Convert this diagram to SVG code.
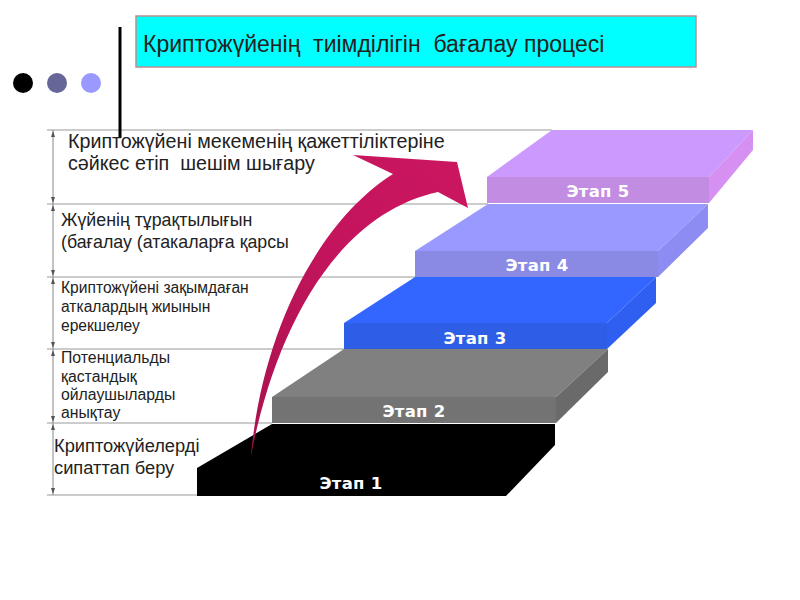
<svg xmlns="http://www.w3.org/2000/svg" width="800" height="600" viewBox="0 0 800 600">
<defs>
<style>
.lbl{font-family:"Liberation Sans",Arial,sans-serif;fill:#222}
.step{font-family:"DejaVu Sans",Verdana,sans-serif;font-weight:bold;font-size:16.5px;fill:#fff;text-anchor:middle;letter-spacing:0.3px}
.guide{stroke:#999;stroke-width:1.2;fill:none}
.tick{fill:#555}
</style>
<linearGradient id="arrowGrad" x1="0" y1="1" x2="1" y2="0">
<stop offset="0" stop-color="#A8124E"/>
<stop offset="0.5" stop-color="#C2145C"/>
<stop offset="1" stop-color="#CC1660"/>
</linearGradient>
</defs>
<rect width="800" height="600" fill="#fff"/>

<g id="title">
<rect x="136" y="16" width="560" height="51" fill="#00FFFF" stroke="#B89090" stroke-width="1.5"/>
<text x="143" y="52" class="lbl" font-size="23" fill="#111" xml:space="preserve">Криптожүйенің  тиімділігін  бағалау процесі</text>
</g>

<g id="bullets">
<circle cx="23" cy="83" r="10" fill="#000"/>
<circle cx="57" cy="83" r="10" fill="#666699"/>
<circle cx="91" cy="83" r="10" fill="#9999FF"/>
</g>

<g id="guides">
<line class="guide" x1="47" y1="130" x2="552" y2="130"/>
<line class="guide" x1="47" y1="204" x2="488" y2="204"/>
<line class="guide" x1="47" y1="277" x2="415" y2="277"/>
<line class="guide" x1="47" y1="349" x2="344" y2="349"/>
<line class="guide" x1="47" y1="423" x2="272" y2="423"/>
<line class="guide" x1="47" y1="495" x2="197" y2="495"/>
<line x1="53" y1="130" x2="53" y2="495" stroke="#888" stroke-width="1"/>
<g class="tick">
<polygon points="53,131 51,137 55,137"/><polygon points="53,203 51,197 55,197"/>
<polygon points="53,205 51,211 55,211"/><polygon points="53,276 51,270 55,270"/>
<polygon points="53,278 51,284 55,284"/><polygon points="53,348 51,342 55,342"/>
<polygon points="53,350 51,356 55,356"/><polygon points="53,422 51,416 55,416"/>
<polygon points="53,424 51,430 55,430"/><polygon points="53,494 51,488 55,488"/>
</g>
</g>

<g id="vbar">
<line x1="120" y1="27" x2="120" y2="138" stroke="#000" stroke-width="3"/>
</g>

<g id="label5">
<text class="lbl" x="68" y="148" font-size="19.7">Криптожүйені мекеменің қажеттіліктеріне</text>
<text class="lbl" x="68" y="170" font-size="19.7" xml:space="preserve">сәйкес етіп  шешім шығару</text>
</g>
<g id="label4">
<text class="lbl" x="61" y="226" font-size="17.8">Жүйенің тұрақтылығын</text>
<text class="lbl" x="61" y="248" font-size="17.8">(бағалау (атакаларға қарсы</text>
</g>
<g id="label3">
<text class="lbl" x="61" y="293" font-size="15.6">Криптожүйені зақымдаған</text>
<text class="lbl" x="61" y="312" font-size="15.6">аткалардың жиынын</text>
<text class="lbl" x="61" y="331" font-size="15.6">ерекшелеу</text>
</g>
<g id="label2">
<text class="lbl" x="61" y="363" font-size="15.8">Потенциальды</text>
<text class="lbl" x="61" y="382" font-size="15.8">қастандық</text>
<text class="lbl" x="61" y="400" font-size="15.8">ойлаушыларды</text>
<text class="lbl" x="61" y="418" font-size="15.8">анықтау</text>
</g>
<g id="label1">
<text class="lbl" x="54" y="452" font-size="18.3">Криптожүйелерді</text>
<text class="lbl" x="54" y="474" font-size="18.3">сипаттап беру</text>
</g>

<g id="step1">
<polygon points="197,496 197,468 272,424 555,424 555,445 506,496" fill="#000"/>
<text class="step" x="351" y="489">Этап 1</text>
</g>
<g id="step2">
<polygon points="272,397 344,349 608,349 556,397" fill="#808080"/>
<polygon points="556,397 608,349 608,372 556,423" fill="#6A6A6A"/>
<rect x="272" y="397" width="284" height="26" fill="#737373"/>
<text class="step" x="414" y="417">Этап 2</text>
</g>
<g id="step3">
<polygon points="344,323 415,277 656,277 607,323" fill="#3366FF"/>
<polygon points="607,323 656,277 656,303 607,349" fill="#2F5FF0"/>
<rect x="344" y="323" width="263" height="26" fill="#2E5DE6"/>
<text class="step" x="475" y="344">Этап 3</text>
</g>
<g id="step4">
<polygon points="415,251 488,204 708,204 658,251" fill="#9999FF"/>
<polygon points="658,251 708,204 708,228 658,277" fill="#8C8CF2"/>
<rect x="415" y="251" width="243" height="26" fill="#8A8AE4"/>
<text class="step" x="537" y="271">Этап 4</text>
</g>
<g id="step5">
<polygon points="487,177 552,130 753,130 709,177" fill="#CC99FF"/>
<polygon points="709,177 753,130 753,150 709,203" fill="#D590F2"/>
<rect x="487" y="177" width="222" height="26" fill="#C28CE2"/>
<text class="step" x="598" y="197">Этап 5</text>
</g>

<g id="connectors">
<path d="M251,456 C262,330 320,220 393,174 L353,155 L457,162 L468,208 L438,192 C336,214 275,330 251,456 Z" fill="url(#arrowGrad)"/>
</g>
</svg>
